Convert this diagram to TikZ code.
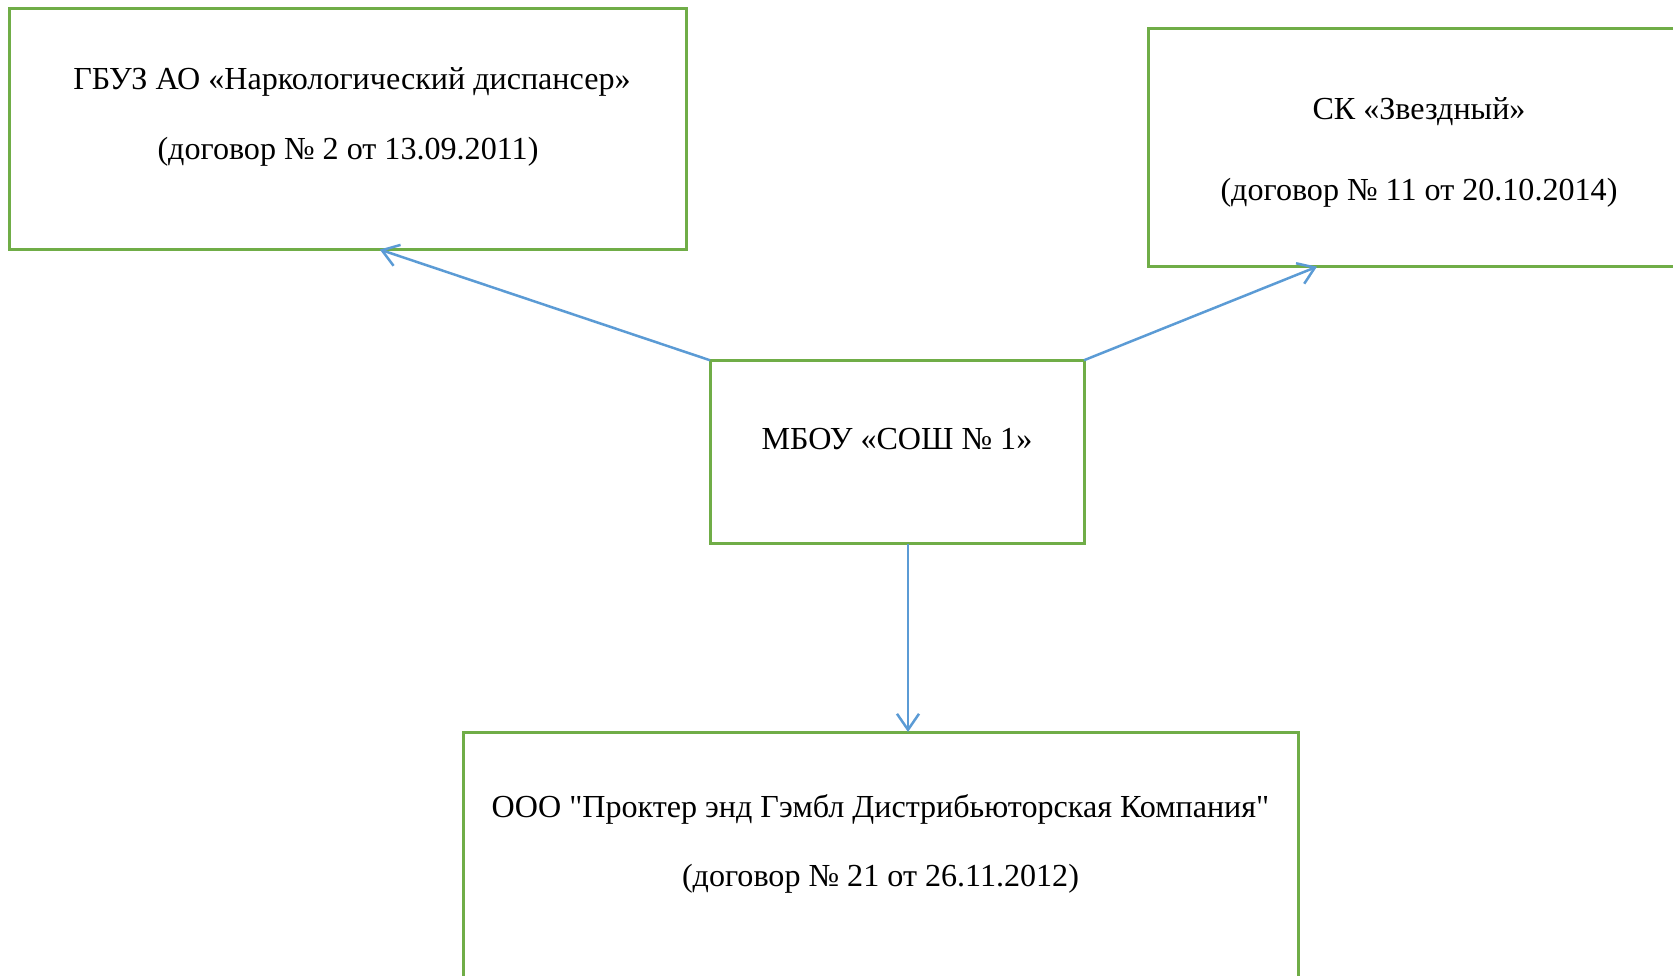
\documentclass[tikz,border=0pt]{standalone}
\usepackage{fontspec}
\setmainfont{Liberation Serif}
\usetikzlibrary{arrows.meta}
\definecolor{boxgreen}{HTML}{70AD47}
\definecolor{arrblue}{HTML}{5B9BD5}
\begin{document}
\begin{tikzpicture}[x=1pt,y=-1pt,
  box/.style={draw=boxgreen, line width=3pt, rectangle, inner sep=0pt, outer sep=0pt},
  txt/.style={anchor=base, inner sep=0pt, font=\fontsize{32.1}{38}\selectfont},
  link/.style={draw=arrblue, line width=2.5pt, -{Straight Barb[length=16pt,width=22pt]}}]
\useasboundingbox (0,0) rectangle (1673,976);
\clip (0,0) rectangle (1673,976);
\fill[white] (0,0) rectangle (1673,976);
% boxes
\node[box, minimum width=676.4pt, minimum height=241.1pt] (gbuz) at (347.8,129) {};
\node[box, minimum width=542pt, minimum height=238pt] (sk) at (1419,147.7) {};
\node[box, minimum width=374pt, minimum height=183.5pt] (mbou) at (897,452) {};
\node[box, minimum width=835pt, minimum height=268pt] (ooo) at (880.5,866) {};
% texts
\node[txt] (gbuz1) at (352,89.6) {ГБУЗ АО «Наркологический диспансер»};
\node[txt] (gbuz2) at (348,160) {(договор № 2 от 13.09.2011)};
\node[txt] (sk1) at (1419,119.5) {СК «Звездный»};
\node[txt] (sk2) at (1419,200.5) {(договор № 11 от 20.10.2014)};
\node[txt] (mbou1) at (897,449) {МБОУ «СОШ № 1»};
\node[txt] (ooo1) at (880.5,817) {ООО \textquotedbl Проктер энд Гэмбл Дистрибьюторская Компания\textquotedbl};
\node[txt] (ooo2) at (880.5,886.5) {(договор № 21 от 26.11.2012)};
% connectors
\draw[link] (mbou.north west) -- ([xshift=32pt]gbuz.south);
\draw[link] (mbou.north east) -- ([xshift=-102pt]sk.south);
\draw[link] ([xshift=11pt]mbou.south) -- ([xshift=27.5pt]ooo.north);
\end{tikzpicture}
\end{document}
